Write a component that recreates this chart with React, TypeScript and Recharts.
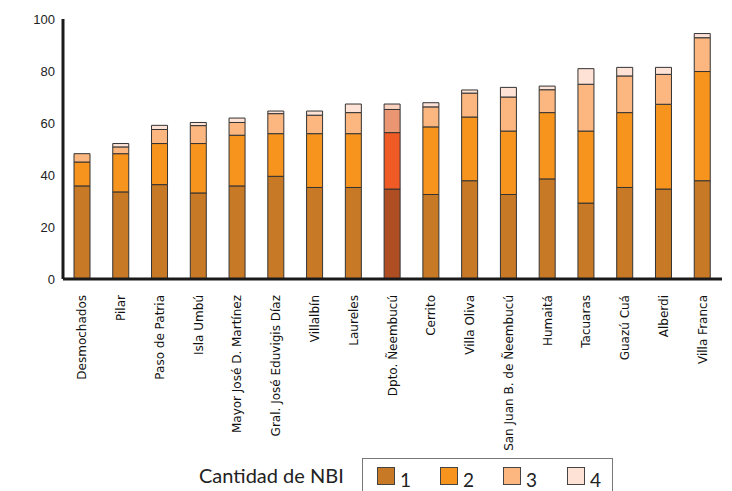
import { BarChart, Bar, XAxis, YAxis, Cell } from 'recharts';

const districts = [
  'Desmochados', 'Pilar', 'Paso de Patria', 'Isla Umbú', 'Mayor José D. Martínez',
  'Gral. José Eduvigis Díaz', 'Villalbín', 'Laureles', 'Dpto. Ñeembucú', 'Cerrito',
  'Villa Oliva', 'San Juan B. de Ñeembucú', 'Humaitá', 'Tacuaras', 'Guazú Cuá',
  'Alberdi', 'Villa Franca',
];

const nbi1 = [35.8, 33.5, 36.3, 33.1, 35.8, 39.5, 35.2, 35.2, 34.6, 32.5, 37.8, 32.5, 38.5, 29.2, 35.2, 34.6, 37.8];
const nbi2 = [9.2, 14.7, 15.8, 19.0, 19.5, 16.4, 20.7, 20.7, 21.7, 26.0, 24.5, 24.4, 25.5, 27.7, 28.8, 32.6, 42.0];
const nbi3 = [3.2, 2.6, 5.4, 6.9, 4.9, 7.7, 7.1, 8.1, 8.9, 7.7, 9.2, 13.1, 8.8, 18.0, 14.1, 11.5, 13.0];
const nbi4 = [0, 1.3, 1.6, 1.2, 1.7, 1.0, 1.6, 3.3, 2.1, 1.6, 1.2, 3.7, 1.4, 6.0, 3.3, 2.7, 1.6];

const yTicks = [0, 20, 40, 60, 80, 100];

const colors = ['#c87926', '#f7941d', '#fbb77f', '#fde2d5'];
const deptColors = ['#ae4e22', '#f05a24', '#ea9672', '#fbd2c0'];
const deptName = 'Dpto. Ñeembucú';
const legendTitle = 'Cantidad de NBI';
const legendLabels = ['1', '2', '3', '4'];

const data = districts.map((name, i) => ({
  name,
  n1: nbi1[i],
  n2: nbi2[i],
  n3: nbi3[i],
  n4: nbi4[i],
}));

const keys = ['n1', 'n2', 'n3', 'n4'];

const CategoryTick = (props: any) => {
  const { x, y, payload } = props;
  return (
    <text
      x={x}
      y={y + 8}
      transform={`rotate(-90, ${x}, ${y + 8})`}
      textAnchor="end"
      dominantBaseline="central"
      fontFamily="DejaVu Sans"
      fontSize={12}
      fill="#111"
    >
      {payload.value}
    </text>
  );
};

export default function App() {
  return (
    <div style={{ position: 'absolute', left: 0, top: 0, width: 732, height: 491, background: '#fff', overflow: 'hidden' }}>
      <BarChart
        width={732}
        height={491}
        data={data}
        margin={{ top: 19, right: 10, left: 0, bottom: 42 }}
        barSize={16}
      >
        <XAxis
          dataKey="name"
          interval={0}
          height={170}
          tickLine={false}
          axisLine={{ stroke: '#1a1a1a', strokeWidth: 3 }}
          tick={<CategoryTick />}
        />
        <YAxis
          domain={[0, 100]}
          ticks={yTicks}
          width={63}
          tickLine={false}
          axisLine={{ stroke: '#1a1a1a', strokeWidth: 3 }}
          tick={{ fontFamily: 'Liberation Sans', fontSize: 13, fill: '#222' }}
        />
        {keys.map((k, si) => (
          <Bar key={k} dataKey={k} stackId="a" fill={colors[si]} stroke="#333" strokeWidth={1} isAnimationActive={false}>
            {data.map((d) => (
              <Cell key={d.name} fill={d.name === deptName ? deptColors[si] : colors[si]} />
            ))}
          </Bar>
        ))}
      </BarChart>
      <svg width={732} height={491} style={{ position: 'absolute', left: 0, top: 0, pointerEvents: 'none' }}>
        <text x={199} y={483} fontFamily="Lato" fontSize={20} fill="#222">
          {legendTitle}
        </text>
        <rect x={362.5} y={458.5} width={250} height={50} fill="none" stroke="#777" strokeWidth={1} />
        {legendLabels.map((lab, i) => {
          const sx = [377, 440, 503, 567][i];
          return (
            <g key={lab}>
              <rect x={sx + 0.5} y={467.5} width={17} height={17} fill={colors[i]} stroke="#444" strokeWidth={1} />
              <text x={sx + 23} y={487} fontFamily="Lato" fontSize={19} fill="#222">
                {lab}
              </text>
            </g>
          );
        })}
      </svg>
    </div>
  );
}
